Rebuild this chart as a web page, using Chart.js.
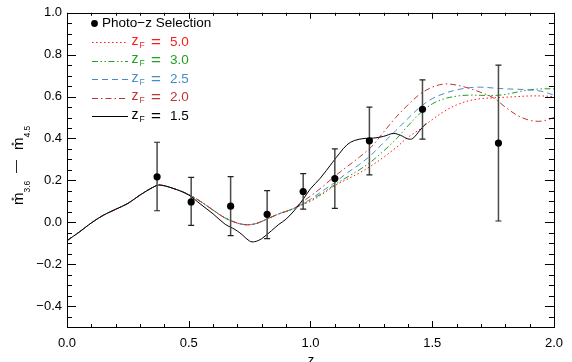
<!DOCTYPE html>
<html>
<head>
<meta charset="utf-8">
<script src="https://cdn.jsdelivr.net/npm/chart.js@4/dist/chart.umd.min.js"></script>
<style>
html,body{margin:0;padding:0;background:#fff;}
#c{display:block;}
</style>
</head>
<body>
<canvas id="c" width="572" height="362"></canvas>
<script>
// ---------------- data ----------------
const photoZ      = [0.370, 0.510, 0.672, 0.822, 0.970, 1.100, 1.242, 1.460, 1.772];
const photoColor  = [0.217, 0.097, 0.077, 0.038, 0.147, 0.209, 0.389, 0.539, 0.378];
const photoErrLo  = [0.055, -0.015, -0.064, -0.078, 0.063, 0.066, 0.226, 0.397, 0.006];
const photoErrHi  = [0.382, 0.214, 0.218, 0.151, 0.232, 0.350, 0.550, 0.680, 0.750];

const modelZ = [0, 0.05, 0.1, 0.15, 0.2, 0.25, 0.3, 0.35, 0.38, 0.45,
                0.5, 0.55, 0.6, 0.65, 0.7, 0.74, 0.78, 0.82, 0.87, 0.93,
                0.97, 1.0, 1.05, 1.1, 1.15, 1.2, 1.25, 1.3, 1.35, 1.4,
                1.45, 1.5, 1.55, 1.6, 1.65, 1.7, 1.75, 1.8, 1.85, 1.9,
                1.95, 2.0];
const zF50 = [-0.088, -0.047, -0.003, 0.034, 0.062, 0.090, 0.130, 0.165, 0.178, 0.156,
              0.132, 0.098, 0.058, 0.020, -0.004, -0.012, -0.005, 0.015, 0.040, 0.065,
              0.085, 0.100, 0.135, 0.175, 0.205, 0.235, 0.270, 0.310, 0.355, 0.405,
              0.445, 0.490, 0.530, 0.560, 0.580, 0.590, 0.594, 0.597, 0.600, 0.603,
              0.603, 0.600];
const zF30 = [-0.088, -0.047, -0.003, 0.034, 0.062, 0.090, 0.130, 0.165, 0.178, 0.156,
              0.132, 0.098, 0.058, 0.020, -0.004, -0.012, -0.005, 0.015, 0.040, 0.065,
              0.088, 0.105, 0.140, 0.180, 0.215, 0.250, 0.290, 0.340, 0.395, 0.460,
              0.520, 0.565, 0.590, 0.602, 0.607, 0.606, 0.605, 0.610, 0.622, 0.632,
              0.637, 0.637];
const zF25 = [-0.088, -0.047, -0.003, 0.034, 0.062, 0.090, 0.130, 0.165, 0.178, 0.156,
              0.132, 0.098, 0.058, 0.020, -0.004, -0.012, -0.005, 0.015, 0.040, 0.065,
              0.090, 0.110, 0.150, 0.190, 0.235, 0.275, 0.322, 0.380, 0.437, 0.495,
              0.550, 0.590, 0.615, 0.632, 0.642, 0.645, 0.641, 0.637, 0.635, 0.632,
              0.625, 0.607];
const zF20 = [-0.088, -0.047, -0.003, 0.034, 0.062, 0.090, 0.130, 0.165, 0.178, 0.156,
              0.132, 0.098, 0.058, 0.020, -0.004, -0.012, -0.005, 0.015, 0.040, 0.065,
              0.100, 0.125, 0.170, 0.220, 0.265, 0.310, 0.360, 0.430, 0.500, 0.560,
              0.612, 0.645, 0.660, 0.655, 0.640, 0.620, 0.595, 0.550, 0.510, 0.487,
              0.483, 0.500];

const zF15Z = [0, 0.05, 0.1, 0.15, 0.2, 0.25, 0.3, 0.35, 0.38, 0.45,
               0.5, 0.55, 0.6, 0.65, 0.68, 0.7, 0.72, 0.75, 0.77, 0.8,
               0.84, 0.87, 0.9, 0.94, 0.97, 1.0, 1.04, 1.09, 1.12, 1.15,
               1.18, 1.22, 1.26, 1.3, 1.34, 1.37, 1.4, 1.42, 1.45, 1.475];
const zF15 = [-0.088, -0.047, -0.003, 0.034, 0.062, 0.090, 0.130, 0.165, 0.178, 0.156,
              0.130, 0.085, 0.040, -0.010, -0.028, -0.042, -0.060, -0.090, -0.093, -0.078,
              -0.040, -0.010, 0.015, 0.065, 0.110, 0.160, 0.210, 0.285, 0.330, 0.370,
              0.390, 0.400, 0.402, 0.410, 0.424, 0.415, 0.398, 0.400, 0.440, 0.472];

const xTickLabels = ['0.0', '0.5', '1.0', '1.5', '2.0'];
const yTickLabels = ['\u22120.4', '\u22120.2', '0.0', '0.2', '0.4', '0.6', '0.8', '1.0'];
const legendLabels = ['Photo\u2212z Selection', '5.0', '3.0', '2.5', '2.0', '1.5'];

// ---------------- build ----------------
const FONT = "'Liberation Sans', Arial, Helvetica, sans-serif";
const toXY = (xs, ys) => xs.map((x, i) => ({x: x, y: ys[i]}));
const errData = [];
photoZ.forEach((z, i) => {
  errData.push({x: z, y: photoErrLo[i]}, {x: z, y: photoErrHi[i]}, {x: z, y: null});
});

const lineBase = {showLine: true, pointRadius: 0, pointHoverRadius: 0, borderWidth: 1, tension: 0.35, fill: false};

const datasets = [
  {label: legendLabels[0], data: toXY(photoZ, photoColor), showLine: false,
   pointRadius: 3.6, pointBackgroundColor: '#000', pointBorderColor: '#000', borderWidth: 0, order: 0},
  {label: 'err', data: errData, showLine: true, spanGaps: false, borderColor: '#4a4a4a', borderWidth: 1.5,
   pointStyle: 'line', pointRadius: 3, pointBorderColor: '#222', pointBorderWidth: 1.2, tension: 0, order: 1},
  Object.assign({}, lineBase, {label: legendLabels[1], data: toXY(modelZ, zF50), borderColor: '#ff1a1a', borderDash: [1.5, 2.5], order: 6}),
  Object.assign({}, lineBase, {label: legendLabels[2], data: toXY(modelZ, zF30), borderColor: '#22a022', borderDash: [6, 2.5, 1.5, 2.5, 1.5, 2.5], order: 5}),
  Object.assign({}, lineBase, {label: legendLabels[3], data: toXY(modelZ, zF25), borderColor: '#4a8ac8', borderDash: [6, 4], order: 4}),
  Object.assign({}, lineBase, {label: legendLabels[4], data: toXY(modelZ, zF20), borderColor: '#c03434', borderDash: [6, 3, 1.5, 3], order: 3}),
  Object.assign({}, lineBase, {label: legendLabels[5], data: toXY(zF15Z, zF15), borderColor: '#000000', borderDash: [], order: 2})
];

// frame, inward ticks, legend, axis titles
const decor = {
  id: 'decor',
  afterDraw(chart) {
    const ctx = chart.ctx, a = chart.chartArea;
    const xs = chart.scales.x, ys = chart.scales.y;
    ctx.save();
    ctx.strokeStyle = '#000';
    ctx.lineWidth = 1;
    ctx.setLineDash([]);
    ctx.strokeRect(Math.round(a.left) + 0.5, Math.round(a.top) + 0.5,
                   Math.round(a.right - a.left), Math.round(a.bottom - a.top));
    ctx.beginPath();
    for (let k = 0; k <= 20; k++) {
      const v = k / 10;
      const px = Math.round(xs.getPixelForValue(v)) + 0.5;
      const len = (k % 5 === 0) ? 6 : 3;
      ctx.moveTo(px, a.bottom); ctx.lineTo(px, a.bottom - len);
      ctx.moveTo(px, a.top); ctx.lineTo(px, a.top + len);
    }
    for (let k = -10; k <= 20; k++) {
      const v = k / 20;
      const py = Math.round(ys.getPixelForValue(v)) + 0.5;
      const len = (k % 4 === 0) ? 9 : 5;
      ctx.moveTo(a.left, py); ctx.lineTo(a.left + len, py);
      ctx.moveTo(a.right, py); ctx.lineTo(a.right - len, py);
    }
    ctx.stroke();

    // legend
    const rows = [23, 42, 60.5, 79, 97.5, 116];
    ctx.textBaseline = 'middle';
    ctx.fillStyle = '#000';
    ctx.beginPath();
    ctx.arc(94.5, rows[0] + 0.5, 3.4, 0, Math.PI * 2);
    ctx.fill();
    ctx.font = '13.5px ' + FONT;
    ctx.textAlign = 'left';
    ctx.fillText(legendLabels[0], 102, rows[0]);
    for (let i = 1; i <= 5; i++) {
      const ds = chart.data.datasets[i + 1];
      const y = rows[i];
      ctx.strokeStyle = ds.borderColor;
      ctx.lineWidth = 1;
      ctx.setLineDash(ds.borderDash || []);
      ctx.beginPath();
      ctx.moveTo(92, Math.round(y) + 0.5);
      ctx.lineTo(128, Math.round(y) + 0.5);
      ctx.stroke();
      ctx.setLineDash([]);
      ctx.fillStyle = ds.borderColor;
      ctx.font = '14px ' + FONT;
      ctx.fillText('z', 131.5, y - 1);
      ctx.font = '8.5px ' + FONT;
      ctx.fillText('F', 139.5, y + 3.5);
      ctx.font = '17px ' + FONT;
      ctx.fillText('=', 151, y);
      ctx.font = '13.5px ' + FONT;
      ctx.fillText(ds.label, 170, y);
    }

    // x title
    ctx.fillStyle = '#000';
    ctx.font = '13px ' + FONT;
    ctx.textAlign = 'center';
    ctx.textBaseline = 'alphabetic';
    ctx.fillText('z', 311, 364);

    // y title (rotated): m*_{3.6} − m*_{4.5}
    ctx.translate(23, 205);
    ctx.rotate(-Math.PI / 2);
    ctx.textAlign = 'left';
    ctx.textBaseline = 'alphabetic';
    const big = '15px ' + FONT, small = '8.5px ' + FONT, star = '9px ' + FONT;
    ctx.font = big; ctx.fillText('m', 0, 0);
    ctx.font = star; ctx.textAlign = 'center'; ctx.fillText('*', 6, -6.5);
    ctx.textAlign = 'left';
    ctx.font = small; ctx.fillText('3.6', 12.5, 7);
    ctx.font = '13px ' + FONT; ctx.fillText('\u2014', 32, -3);
    ctx.font = big; ctx.fillText('m', 55, 0);
    ctx.font = star; ctx.textAlign = 'center'; ctx.fillText('*', 61, -6.5);
    ctx.textAlign = 'left';
    ctx.font = small; ctx.fillText('4.5', 67.5, 7);
    ctx.restore();
  }
};

new Chart(document.getElementById('c'), {
  type: 'scatter',
  data: {datasets: datasets},
  options: {
    responsive: false,
    animation: false,
    devicePixelRatio: 1,
    layout: {padding: {top: 7, right: 17, left: 0, bottom: 0}},
    plugins: {legend: {display: false}, tooltip: {enabled: false}},
    scales: {
      x: {
        type: 'linear', min: 0, max: 2,
        afterFit: s => { s.height = 35; },
        grid: {display: false, drawTicks: false},
        border: {display: false},
        ticks: {
          stepSize: 0.5, autoSkip: false, padding: 9, color: '#000',
          font: {size: 13, family: FONT},
          callback: v => { const i = Math.round(v / 0.5); return Math.abs(v - i * 0.5) < 1e-6 ? xTickLabels[i] : ''; }
        }
      },
      y: {
        type: 'linear', min: -0.5, max: 1.0,
        afterFit: s => { s.width = 67; },
        grid: {display: false, drawTicks: false},
        border: {display: false},
        ticks: {
          stepSize: 0.2, autoSkip: false, padding: 5, color: '#000',
          font: {size: 13, family: FONT},
          callback: v => { const i = Math.round((v + 0.4) / 0.2); return Math.abs(v - (-0.4 + i * 0.2)) < 1e-6 ? yTickLabels[i] : ''; }
        }
      }
    }
  },
  plugins: [decor]
});
</script>
</body>
</html>
